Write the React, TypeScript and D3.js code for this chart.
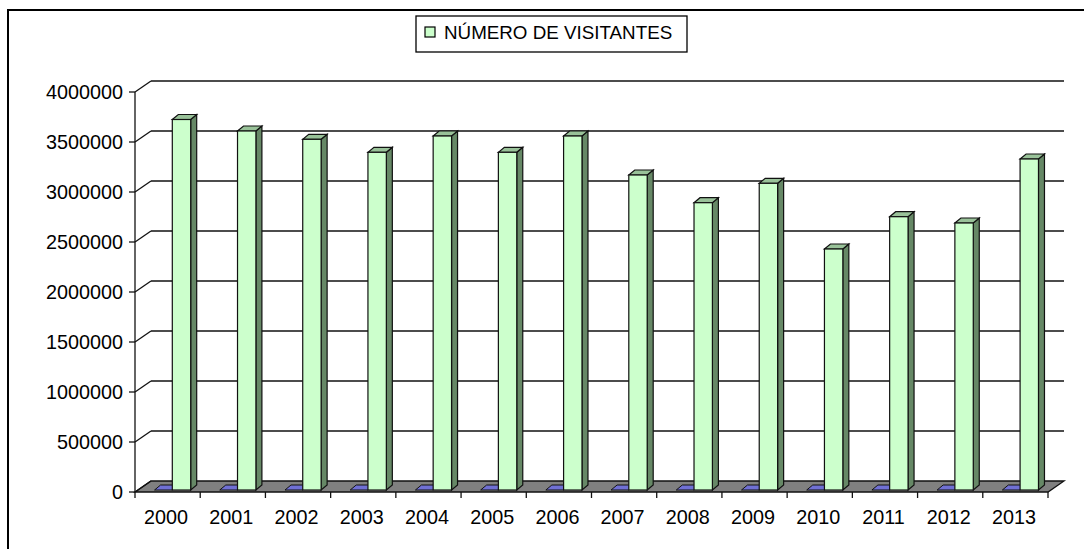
import React, { useEffect, useRef } from "react";
import * as d3 from "d3";

const years = ["2000", "2001", "2002", "2003", "2004", "2005", "2006", "2007", "2008", "2009", "2010", "2011", "2012", "2013"];
const visitantes = [3705000, 3590000, 3507000, 3377000, 3540000, 3377000, 3540000, 3150000, 2873000, 3067000, 2410000, 2733000, 2670000, 3310000];
const emptySeries = [0, 0, 0, 0, 0, 0, 0, 0, 0, 0, 0, 0, 0, 0];
const yTicks = [0, 500000, 1000000, 1500000, 2000000, 2500000, 3000000, 3500000, 4000000];
const legendLabel = "NÚMERO DE VISITANTES";

const App = () => {
  const svgRef = useRef<SVGSVGElement | null>(null);

  useEffect(() => {
    if (!svgRef.current) return;
    const svg = d3.select(svgRef.current);
    svg.selectAll("*").remove();

    const font = "'Liberation Sans', Arial, sans-serif";
    const line = "#111";
    const axisFont = 19.8;

    // front plane scales
    const x = d3.scaleBand<string>().domain(years).range([135, 1048]).padding(0);
    const y = d3.scaleLinear().domain([0, 4000000]).range([492, 92]);
    const bw = x.bandwidth();

    // 3d depth of the walls, and of the bars
    const dx = 16;
    const dy = -11;
    const bdx = 6;
    const bdy = -5;
    const barShift = -2;

    // outer frame (right and bottom edges fall off the picture)
    svg.append("path")
      .attr("d", "M8,549 L8,10 L1084,10")
      .attr("fill", "none")
      .attr("stroke", "#000")
      .attr("stroke-width", 2);

    // floor
    const x0 = x.range()[0];
    const x1 = x.range()[1];
    svg.append("polygon")
      .attr("points", [[x0, y(0)], [x1, y(0)], [x1 + dx, y(0) + dy], [x0 + dx, y(0) + dy]].map((p) => p.join(",")).join(" "))
      .attr("fill", "#808080")
      .attr("stroke", line)
      .attr("stroke-width", 1.3);

    // gridlines on back wall + side wall diagonals
    yTicks.forEach((t) => {
      if (t > 0) {
        svg.append("line")
          .attr("x1", x0 + dx).attr("y1", y(t) + dy)
          .attr("x2", x1 + dx).attr("y2", y(t) + dy)
          .attr("stroke", line).attr("stroke-width", 1.3);
      }
      svg.append("line")
        .attr("x1", x0).attr("y1", y(t))
        .attr("x2", x0 + dx).attr("y2", y(t) + dy)
        .attr("stroke", line).attr("stroke-width", 1.3);
      // tick
      svg.append("line")
        .attr("x1", x0 - 6).attr("y1", y(t))
        .attr("x2", x0).attr("y2", y(t))
        .attr("stroke", line).attr("stroke-width", 1.3);
      svg.append("text")
        .attr("x", 123)
        .attr("y", y(t))
        .attr("dy", "0.35em")
        .attr("text-anchor", "end")
        .attr("font-family", font)
        .attr("font-size", axisFont)
        .attr("fill", "#000")
        .text(t);
    });

    // y axis line
    svg.append("line")
      .attr("x1", x0).attr("y1", y(4000000))
      .attr("x2", x0).attr("y2", y(0) + 6)
      .attr("stroke", line).attr("stroke-width", 1.3);

    // x ticks and labels
    years.forEach((yr) => {
      const xe = (x(yr) as number) + bw;
      svg.append("line")
        .attr("x1", xe).attr("y1", y(0))
        .attr("x2", xe).attr("y2", y(0) + 6)
        .attr("stroke", line).attr("stroke-width", 1.3);
      svg.append("text")
        .attr("x", (x(yr) as number) + bw / 2 - 1.5)
        .attr("y", 523.5)
        .attr("text-anchor", "middle")
        .attr("font-family", font)
        .attr("font-size", axisFont)
        .attr("fill", "#000")
        .text(yr);
    });

    const poly = (pts: number[][]) => pts.map((p) => p.join(",")).join(" ");

    // bars
    years.forEach((yr, i) => {
      const bx = x(yr) as number;
      const base = y(0) + barShift;

      // zero-valued blue series: only its top face shows
      const ax = bx + 0.3 * bw;
      const aw = 0.272 * bw;
      const ay = y(emptySeries[i]) + barShift;
      svg.append("polygon")
        .attr("points", poly([[ax, ay], [ax + aw, ay], [ax + aw + bdx, ay + bdy], [ax + bdx, ay + bdy]]))
        .attr("fill", "#7070d4")
        .attr("stroke", line)
        .attr("stroke-width", 1);

      const gx = bx + 0.572 * bw;
      const gw = 0.282 * bw;
      const gy = y(visitantes[i]) + barShift;

      // right side
      svg.append("polygon")
        .attr("points", poly([[gx + gw, gy], [gx + gw + bdx, gy + bdy], [gx + gw + bdx, base + bdy], [gx + gw, base]]))
        .attr("fill", "#668866")
        .attr("stroke", line)
        .attr("stroke-width", 1.2);
      // top
      svg.append("polygon")
        .attr("points", poly([[gx, gy], [gx + gw, gy], [gx + gw + bdx, gy + bdy], [gx + bdx, gy + bdy]]))
        .attr("fill", "#99c299")
        .attr("stroke", line)
        .attr("stroke-width", 1.2);
      // front
      svg.append("rect")
        .attr("x", gx).attr("y", gy)
        .attr("width", gw).attr("height", base - gy)
        .attr("fill", "#ccffcc")
        .attr("stroke", line)
        .attr("stroke-width", 1.2);
    });

    // legend
    svg.append("rect")
      .attr("x", 416).attr("y", 16)
      .attr("width", 271).attr("height", 36)
      .attr("fill", "#fff")
      .attr("stroke", "#000")
      .attr("stroke-width", 1.3);
    svg.append("rect")
      .attr("x", 425).attr("y", 27)
      .attr("width", 10).attr("height", 10)
      .attr("fill", "#ccffcc")
      .attr("stroke", "#000")
      .attr("stroke-width", 1.2);
    svg.append("text")
      .attr("x", 444)
      .attr("y", 38.5)
      .attr("font-family", font)
      .attr("font-size", 18.8)
      .attr("fill", "#000")
      .text(legendLabel);
  }, []);

  return (
    <div style={{ position: "absolute", left: 0, top: 0, width: 1084, height: 549, background: "#fff" }}>
      <svg ref={svgRef} width={1084} height={549} style={{ display: "block" }} />
    </div>
  );
};

export default App;
